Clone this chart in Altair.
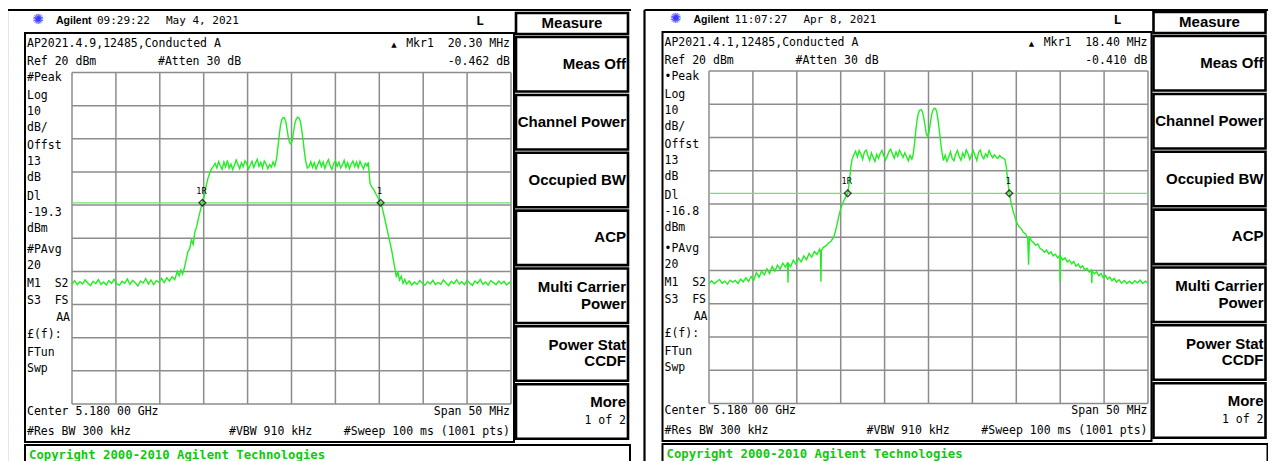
import altair as alt
import pandas as pd

# ---------------- data ----------------
FREQ_L = [-25.0, -24.7, -24.4, -24.1, -23.8, -23.5, -23.2, -22.9, -22.6, -22.3, -22.0, -21.7, -21.4, -21.1,
          -20.8, -20.5, -20.2, -19.9, -19.6, -19.3, -19.0, -18.7, -18.4, -18.1, -17.8, -17.5, -17.2, -16.9,
          -16.6, -16.3, -16.0, -15.7, -15.4, -15.1, -14.8, -14.5, -14.2, -13.9, -13.6, -13.3,
          -13.0, -12.8, -12.6, -12.4, -12.2, -12.0, -11.8, -11.6, -11.4, -11.2, -11.0, -10.8, -10.6, -10.4,
          -10.15, -9.9, -9.7, -9.5, -9.3, -9.1, -8.9,
          -8.7, -8.5, -8.3, -8.1, -7.9, -7.7, -7.5, -7.3, -7.1, -6.9, -6.7, -6.5, -6.3, -6.1, -5.9, -5.7,
          -5.5, -5.3, -5.1, -4.9, -4.7, -4.5, -4.3, -4.1, -3.9, -3.7, -3.5, -3.3, -3.1, -2.9, -2.7, -2.5,
          -2.3, -2.1, -1.9, -1.7, -1.55, -1.4, -1.25, -1.1, -0.95, -0.8, -0.65, -0.5, -0.35, -0.2, -0.05,
          0.1, 0.25, 0.4, 0.55, 0.7, 0.85, 1.0, 1.15, 1.3, 1.45, 1.6, 1.8, 2.0, 2.2, 2.4, 2.6, 2.8, 3.0,
          3.2, 3.4, 3.6, 3.8, 4.0, 4.2, 4.4, 4.6, 4.8, 5.0, 5.2, 5.4, 5.6, 5.8, 6.0, 6.2, 6.4, 6.6, 6.8,
          7.0, 7.2, 7.4, 7.6, 7.8, 8.0, 8.2, 8.4, 8.6, 8.75,
          8.85, 8.95, 9.15, 9.4, 9.65, 9.9, 10.15, 10.4, 10.65, 10.9, 11.15, 11.4, 11.6, 11.8, 11.95, 12.1,
          12.3, 12.5, 12.7, 12.9,
          13.1, 13.4, 13.7, 14.0, 14.3, 14.6, 14.9, 15.2, 15.5, 15.8, 16.1, 16.4, 16.7, 17.0, 17.3, 17.6,
          17.9, 18.2, 18.5, 18.8, 19.1, 19.4, 19.7, 20.0, 20.3, 20.6, 20.9, 21.2, 21.5, 21.8, 22.1, 22.4,
          22.7, 23.0, 23.3, 23.6, 23.9, 24.2, 24.5, 24.8, 25.0]
LEVEL_L = [-43.9, -42.8, -44.0, -43.1, -43.8, -42.6, -43.5, -44.3, -43.0, -43.7, -42.5, -43.9, -43.2, -44.1,
           -42.8, -43.6, -42.4, -43.7, -44.2, -43.0, -43.6, -42.3, -43.9, -42.7, -43.4, -44.4, -42.9, -43.5,
           -42.2, -43.8, -42.6, -44.0, -42.8, -43.3, -42.1, -43.4, -41.9, -42.9, -41.6, -42.5,
           -40.0, -41.3, -39.6, -40.8, -38.9, -36.5, -34.0, -33.2, -30.5, -31.8, -28.0, -26.5, -24.0, -21.8,
           -19.3, -16.8, -14.0, -11.8, -10.2, -9.0, -8.3,
           -7.4, -8.8, -6.9, -8.2, -9.2, -7.0, -8.5, -6.5, -8.9, -7.6, -9.3, -7.9, -6.4, -7.8, -9.0, -7.2,
           -8.4, -6.6, -7.5, -9.1, -8.0, -6.8, -8.6, -7.3, -6.2, -8.3, -7.1, -8.8, -6.7, -7.6, -9.0, -7.8,
           -8.5, -7.0, -8.2, -6.0, -2.5, 1.0, 4.2, 5.9, 6.4, 6.3, 5.2, 2.8, 0.2, -1.2, -1.6,
           -0.4, 2.5, 4.8, 6.0, 6.5, 6.3, 5.4, 3.0, 0.0, -3.5, -6.5, -8.8, -8.4, -6.9, -8.6, -7.2, -9.1, -7.7,
           -6.6, -8.4, -7.0, -8.9, -7.4, -6.3, -8.1, -9.2, -7.5, -6.6, -8.3, -7.1, -8.8, -7.8, -6.5, -8.6,
           -7.2, -9.0, -7.6, -6.7, -8.4, -7.0, -8.7, -6.8, -8.0, -9.1, -7.4, -8.2, -7.1,
           -10.5, -13.5, -14.6, -15.5, -16.8, -18.0, -19.3, -21.5, -24.5, -27.5, -30.5, -33.5, -36.5, -39.5,
           -41.8, -40.0, -42.6, -41.5, -43.6, -42.4,
           -43.8, -42.9, -44.1, -43.2, -43.9, -42.8, -43.6, -44.2, -43.1, -43.8, -42.7, -44.0, -43.3, -43.9,
           -42.6, -43.5, -44.3, -43.0, -43.7, -42.5, -43.8, -43.1, -44.0, -42.7, -43.5, -44.2, -42.9, -43.6,
           -42.4, -43.9, -43.2, -44.1, -42.8, -43.4, -44.0, -42.9, -43.7, -43.0, -44.1, -43.3, -43.8]

FREQ_R = [-25.0, -24.7, -24.4, -24.1, -23.8, -23.5, -23.2, -22.9, -22.6, -22.3, -22.0, -21.7, -21.4, -21.1,
          -20.8, -20.5, -20.2, -19.9,
          -19.6, -19.3, -19.0, -18.7, -18.4, -18.1, -17.8, -17.5, -17.2, -16.9, -16.6, -16.3, -16.05, -16.0,
          -15.95, -15.7, -15.4, -15.1, -14.8, -14.5, -14.2, -13.9, -13.6, -13.3, -13.0, -12.7, -12.4, -12.3,
          -12.25, -12.2, -12.0, -11.7, -11.4, -11.1, -10.8, -10.6, -10.45, -10.2, -9.95, -9.7, -9.45, -9.2,
          -9.0, -8.85, -8.7,
          -8.5, -8.3, -8.1, -7.9, -7.7, -7.5, -7.3, -7.1, -6.9, -6.7, -6.5, -6.3, -6.1, -5.9, -5.7, -5.5,
          -5.3, -5.1, -4.9, -4.7, -4.5, -4.3, -4.1, -3.9, -3.7, -3.5, -3.3, -3.1, -2.9, -2.7, -2.5, -2.3,
          -2.1, -1.9, -1.75, -1.6, -1.45, -1.3, -1.15, -1.0, -0.85, -0.7, -0.55, -0.4, -0.25, -0.1, 0.05,
          0.2, 0.35, 0.5, 0.65, 0.8, 0.95, 1.1, 1.25, 1.4, 1.55, 1.7, 1.9, 2.1, 2.3, 2.5, 2.7, 2.9, 3.1,
          3.3, 3.5, 3.7, 3.9, 4.1, 4.3, 4.5, 4.7, 4.9, 5.1, 5.3, 5.5, 5.7, 5.9, 6.1, 6.3, 6.5, 6.7, 6.9,
          7.1, 7.3, 7.5, 7.7, 7.9, 8.1, 8.3, 8.5, 8.7,
          8.85, 9.0, 9.2, 9.4, 9.6, 9.8, 10.05, 10.3, 10.55, 10.8, 11.05, 11.3, 11.4, 11.5, 11.7, 11.95,
          12.2, 12.45, 12.7, 12.95, 13.2, 13.45, 13.7, 13.95, 14.2, 14.45, 14.7, 14.95, 15.0, 15.05, 15.3,
          15.55, 15.8, 16.05, 16.3, 16.55, 16.8, 17.05, 17.3, 17.55, 17.8, 18.05, 18.3, 18.55, 18.6, 18.65,
          18.9, 19.15, 19.4, 19.65, 19.9, 20.15, 20.4, 20.65, 20.9, 21.15, 21.4, 21.7, 22.0, 22.3, 22.6,
          22.9, 23.2, 23.5, 23.8, 24.1, 24.4, 24.7, 25.0]
LEVEL_R = [-43.9, -43.1, -44.0, -43.3, -42.7, -43.8, -43.2, -44.1, -42.9, -43.5, -43.0, -43.9, -42.6, -43.4,
           -42.2, -43.3, -41.8, -42.9,
           -40.6, -42.0, -40.2, -41.3, -39.5, -40.9, -38.8, -40.2, -38.4, -39.6, -37.8, -39.0, -37.6, -43.7,
           -37.9, -38.8, -36.9, -38.1, -36.3, -37.4, -35.6, -36.8, -34.9, -36.0, -34.3, -35.2, -33.6, -34.5,
           -43.4, -34.0, -33.1, -32.6, -31.8, -31.2, -30.0, -28.2, -26.5, -23.5, -21.0, -19.3, -18.0, -16.8,
           -13.0, -9.0, -6.5,
           -5.2, -4.1, -5.8, -3.9, -5.0, -6.6, -4.4, -3.8, -5.5, -6.9, -4.6, -6.0, -7.2, -5.1, -6.3, -4.8,
           -3.9, -5.4, -6.8, -5.6, -4.2, -3.5, -5.0, -6.2, -4.4, -5.6, -3.8, -4.9, -6.0, -4.6, -5.8, -7.0,
           -5.4, -6.5, -5.2, -2.0, 2.0, 5.2, 7.3, 8.2, 8.4, 7.8, 6.0, 3.8, 1.2, 0.3, 1.5,
           4.2, 6.8, 8.2, 8.8, 8.7, 7.6, 5.0, 1.8, -1.8, -4.8, -6.9, -5.3, -7.2, -5.9, -4.3, -6.4, -7.0, -5.0,
           -3.9, -5.7, -6.8, -4.7, -5.9, -3.7, -4.8, -6.6, -5.3, -4.0, -5.5, -6.9, -4.5, -3.8, -5.6, -6.4,
           -4.9, -5.8, -3.9, -5.1, -6.1, -5.2, -5.9, -6.3, -5.4, -6.0, -6.2, -6.6,
           -8.5, -12.5, -16.8, -19.5, -21.8, -23.5, -25.6, -26.8, -27.4, -28.5, -29.0, -30.2, -38.3, -29.8,
           -31.0, -31.6, -32.4, -32.0, -33.3, -33.8, -34.5, -33.9, -35.0, -34.4, -35.6, -35.1, -36.2, -35.5,
           -43.4, -35.8, -36.8, -36.2, -37.4, -36.9, -38.0, -37.3, -38.7, -38.0, -39.2, -38.6, -39.8, -39.3,
           -40.5, -39.8, -43.8, -40.2, -41.0, -40.4, -41.6, -40.9, -42.2, -41.5, -42.6, -42.0, -43.1, -42.4,
           -43.5, -42.8, -43.8, -43.0, -43.9, -43.2, -44.0, -43.1, -43.7, -42.9, -43.9, -43.2, -43.8]

GRID_F = [-25, -20, -15, -10, -5, 0, 5, 10, 15, 20, 25]
GRID_DB = [20, 10, 0, -10, -20, -30, -40, -50, -60, -70, -80]
SPAN_MHZ = [-25, 25]
LEVEL_RANGE = [-80, 20]

DL_LEFT, DL_RIGHT = -19.3, -16.8
MKR_LEFT = [-10.15, 10.15]
MKR_RIGHT = [-9.2, 9.2]
MKR_LABELS = ["1R", "1"]

SOFTKEYS = ["Meas Off", "Channel Power", "Occupied BW", "ACP", "Multi Carrier|Power",
            "Power Stat|CCDF", "More"]

# ---------------- styling / layout ----------------
MONO = "DejaVu Sans Mono"
SANS = "Liberation Sans"
GREEN = "#22ee22"
DLGREEN = "#6fe36f"
GRIDC = "#8c8c8c"
W, H = 1260, 453
NB = "\u00a0"


def P(v):
    return v - 8


def tlayer(rows, size, font=MONO, weight="normal", align="left", color="black"):
    df = pd.DataFrame(rows, columns=["x", "y", "t"])
    df["x"] = df["x"].map(P)
    df["y"] = df["y"].map(P)
    df["t"] = df["t"].str.replace(" ", NB)
    return alt.Chart(df).mark_text(font=font, fontSize=size, fontWeight=weight, align=align,
                                   baseline="middle", color=color).encode(
        x=alt.X("x:Q", scale=None, axis=None),
        y=alt.Y("y:Q", scale=None, axis=None),
        text="t:N")


def rects(rows, sw, color="black"):
    df = pd.DataFrame(rows, columns=["x", "x2", "y", "y2"]).map(P)
    return alt.Chart(df).mark_rect(fillOpacity=0, stroke=color, strokeWidth=sw).encode(
        x=alt.X("x:Q", scale=None, axis=None), x2="x2:Q",
        y=alt.Y("y:Q", scale=None, axis=None), y2="y2:Q")


def rules(rows, sw, color="black"):
    df = pd.DataFrame(rows, columns=["x", "x2", "y", "y2"]).map(P)
    return alt.Chart(df).mark_rule(stroke=color, strokeWidth=sw).encode(
        x=alt.X("x:Q", scale=None, axis=None), x2="x2:Q",
        y=alt.Y("y:Q", scale=None, axis=None), y2="y2:Q")


def decor(dx, dy, info):
    L = []
    # frames
    L.append(rules([(7 + dx, 7 + dx, 10, 470), (7 + dx, 631 + dx, 10, 10)], 2.2))
    L.append(rects([(25 + dx, 514 + dx, 33 + dy, 442 + dy)], 2))
    L.append(rects([(516 + dx, 628 + dx, 13 + dy, 34 + dy)], 2.6))
    tops = [37, 95, 152.7, 210.6, 268.5, 326.3, 384.2]
    L.append(rects([(516 + dx, 628 + dx, t + dy, t + 54.5 + dy) for t in tops], 2.6))
    L.append(rects([(25 + dx, 630 + dx, 445 + dy, 475)], 2))
    # header
    L.append(tlayer([(38 + dx, 20 + dy, "✺")], 14, font="DejaVu Sans", align="center", color="#3b3bff"))
    L.append(tlayer([(56 + dx, 21 + dy, "Agilent")], 10.5, font=SANS, weight="bold"))
    L.append(tlayer([(97 + dx, 21 + dy, info["time"]), (166 + dx, 21 + dy, info["date"])], 11))
    L.append(tlayer([(476 + dx, 21 + dy, "L")], 13, font=MONO, weight="bold"))
    L.append(tlayer([(572 + dx, 23 + dy, "Measure")], 15, font=SANS, weight="bold", align="center"))
    # softkeys
    sk = []
    ys = [64, 121.5, 179.5, 237, None, None, 402]
    for i, lab in enumerate(SOFTKEYS):
        t = tops[i]
        if "|" in lab:
            a, b = lab.split("|")
            sk.append((626 + dx, t + 18.5 + dy, a))
            sk.append((626 + dx, t + 35 + dy, b))
        else:
            sk.append((626 + dx, ys[i] + dy, lab))
    L.append(tlayer(sk, 15, font=SANS, weight="bold", align="right"))
    # screen annotations
    left_rows = [
        (27, 44, info["title"]), (27, 62, "Ref 20 dBm"), (158, 62, "#Atten 30 dB"),
        (27, 78, info["peak"]), (27, 96, "Log"), (27, 112, "10"), (27, 128, "dB/"),
        (27, 146, "Offst"), (27, 162, "13"), (27, 178, "dB"), (27, 196.5, "Dl"),
        (27, 213, info["dl"]), (27, 228.5, "dBm"), (27, 250, info["pavg"]), (27, 266, "20"),
        (27, 283.5, "M1  S2"), (27, 301, "S3  FS"), (27, 335, "£(f):"), (27, 352.5, "FTun"),
        (27, 369, "Swp"), (27, 412, "Center 5.180 00 GHz"), (27, 432, "#Res BW 300 kHz"),
        (229, 432, "#VBW 910 kHz")]
    L.append(tlayer([(x + dx, y + dy, t) for x, y, t in left_rows], 11.5))
    right_rows = [(510, 44, info["mkr"]), (510, 62, info["mkrdb"]), (510, 412, "Span 50 MHz"),
                  (510, 432, "#Sweep 100 ms (1001 pts)"), (70, 318, "AA"), (626, 421, "1 of 2")]
    L.append(tlayer([(x + dx, y + dy, t) for x, y, t in right_rows], 11.5, align="right"))
    L.append(tlayer([(394 + dx, 45 + dy, "▲")], 7, font="DejaVu Sans", align="center"))
    L.append(tlayer([(29 + dx, 455 + dy, "Copyright 2000-2010 Agilent Technologies")], 12.3,
                    weight="bold", color="#10c810"))
    return L


def panel(freq, level, dl, mkr, gx0, gx1, gy0, gy1):
    xs = alt.Scale(domain=SPAN_MHZ, range=[P(gx0), P(gx1)], nice=False, zero=False)
    ys = alt.Scale(domain=LEVEL_RANGE, range=[P(gy1), P(gy0)], nice=False, zero=False)
    vg = pd.DataFrame({"f": GRID_F, "lo": LEVEL_RANGE[0], "hi": LEVEL_RANGE[1]})
    hg = pd.DataFrame({"p": GRID_DB, "a": SPAN_MHZ[0], "b": SPAN_MHZ[1]})
    tr = pd.DataFrame({"f": freq, "p": level, "i": list(range(len(freq)))})
    dld = pd.DataFrame({"p": [dl], "a": [SPAN_MHZ[0]], "b": [SPAN_MHZ[1]]})
    mk = pd.DataFrame({"f": mkr, "p": [dl, dl], "lab": MKR_LABELS})
    gv = alt.Chart(vg).mark_rule(color=GRIDC, strokeWidth=1.5).encode(
        x=alt.X("f:Q", scale=xs, axis=None), y=alt.Y("lo:Q", scale=ys, axis=None), y2="hi:Q")
    gh = alt.Chart(hg).mark_rule(color=GRIDC, strokeWidth=1.5).encode(
        y=alt.Y("p:Q", scale=ys, axis=None), x=alt.X("a:Q", scale=xs, axis=None), x2="b:Q")
    dline = alt.Chart(dld).mark_rule(color=DLGREEN, strokeWidth=1.3).encode(
        y=alt.Y("p:Q", scale=ys, axis=None), x=alt.X("a:Q", scale=xs, axis=None), x2="b:Q")
    trace = alt.Chart(tr).mark_line(color=GREEN, strokeWidth=1.4).encode(
        x=alt.X("f:Q", scale=xs, axis=None), y=alt.Y("p:Q", scale=ys, axis=None), order="i:Q")
    pts = alt.Chart(mk).mark_point(shape="diamond", filled=False, color="black", size=45,
                                   strokeWidth=1.4).encode(
        x=alt.X("f:Q", scale=xs, axis=None), y=alt.Y("p:Q", scale=ys, axis=None))
    labs = alt.Chart(mk).mark_text(dy=-12, dx=-1, fontSize=8.5, font=MONO, color="black").encode(
        x=alt.X("f:Q", scale=xs, axis=None), y=alt.Y("p:Q", scale=ys, axis=None), text="lab:N")
    return alt.layer(gv, gh, dline, trace, pts, labs)


left_info = dict(time="09:29:22", date="May 4, 2021", title="AP2021.4.9,12485,Conducted A",
                 mkr="Mkr1  20.30 MHz", mkrdb="-0.462 dB", dl="-19.3", peak="#Peak", pavg="#PAvg")
right_info = dict(time="11:07:27", date="Apr 8, 2021", title="AP2021.4.1,12485,Conducted A",
                  mkr="Mkr1  18.40 MHz", mkrdb="-0.410 dB", dl="-16.8", peak="•Peak", pavg="•PAvg")

layers = decor(0, 0, left_info) + decor(637.5, -1, right_info)
left_panel = panel(FREQ_L, LEVEL_L, DL_LEFT, MKR_LEFT, 72, 511, 72.5, 404)
right_panel = panel(FREQ_R, LEVEL_R, DL_RIGHT, MKR_RIGHT, 709, 1148, 71, 403.5)

chart = alt.layer(*layers, left_panel, right_panel).resolve_scale(
    x="independent", y="independent").properties(
    width=W, height=H, padding=0, autosize=alt.AutoSizeParams(type="none")
).configure_view(stroke=None)

chart.save("out.html", embed_options={"renderer": "svg", "actions": False})
